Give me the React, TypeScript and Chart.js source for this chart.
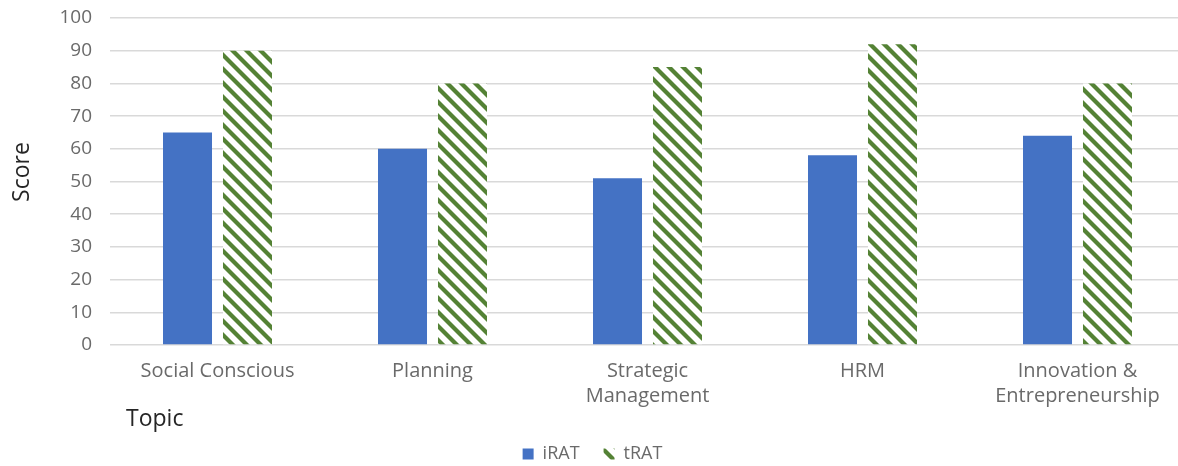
import React, { useEffect, useRef } from "react";
import { Chart, registerables } from "chart.js";

Chart.register(...registerables);

// Topics on the x axis (multi-line where the label wraps)
const topics: (string | string[])[] = [
  "Social Conscious",
  "Planning",
  ["Strategic", "Management"],
  "HRM",
  ["Innovation &", "Entrepreneurship"],
];

// Individual and team readiness assurance test scores
const iratScores = [65, 60, 51, 58, 64];
const tratScores = [90, 80, 85, 92, 80];

const seriesNames = ["iRAT", "tRAT"];
const scoreMin = 0;
const scoreMax = 100;
const scoreStep = 10;

const yTitle = "Score";
const xTitle = "Topic";

const BLUE = "#4472C4";
const GREEN = "#548235";
const TICK_GREY = "#6a6a6a";
const GRID_GREY = "#d9d9d9";
const TITLE_DARK = "#262626";
const FONT = "'Open Sans', sans-serif";

const CANVAS_W = 1192;
const CANVAS_H = 473;

// Diagonal green-on-white stripe fill for the tRAT bars
function makeStripes(): CanvasPattern | string {
  const size = 14;
  const tile = document.createElement("canvas");
  tile.width = size;
  tile.height = size;
  const g = tile.getContext("2d");
  if (!g) return GREEN;
  g.fillStyle = "#ffffff";
  g.fillRect(0, 0, size, size);
  g.strokeStyle = GREEN;
  g.lineWidth = 4.2;
  for (const off of [-size, 0, size]) {
    g.beginPath();
    g.moveTo(off - 3, -3);
    g.lineTo(off + size + 3, size + 3);
    g.stroke();
  }
  return g.createPattern(tile, "repeat") || GREEN;
}

// Axis captions: rotated "Score" beside the value axis and a left-aligned
// "Topic" under the category labels
const axisCaptions = {
  id: "axisCaptions",
  afterDraw(chart: Chart) {
    const { ctx, chartArea } = chart;
    ctx.save();
    ctx.font = `23px ${FONT}`;
    ctx.fillStyle = TITLE_DARK;
    ctx.textAlign = "center";
    ctx.textBaseline = "middle";
    ctx.save();
    ctx.translate(22, chartArea.top + 154);
    ctx.rotate(-Math.PI / 2);
    ctx.fillText(yTitle, 0, 0);
    ctx.restore();
    ctx.textAlign = "left";
    ctx.fillText(xTitle, chartArea.left + 16, chartArea.bottom + 74);
    ctx.restore();
  },
};

export default function App() {
  const canvasRef = useRef<HTMLCanvasElement | null>(null);

  useEffect(() => {
    const canvas = canvasRef.current;
    if (!canvas) return;
    Chart.defaults.font.family = FONT;
    const stripes = makeStripes();

    const chart = new Chart(canvas, {
      type: "bar",
      data: {
        labels: topics,
        datasets: [
          {
            label: seriesNames[0],
            data: iratScores,
            backgroundColor: BLUE,
            borderWidth: 0,
          },
          {
            label: seriesNames[1],
            data: tratScores,
            backgroundColor: stripes as any,
            borderWidth: 0,
          },
        ],
      },
      options: {
        responsive: false,
        animation: false,
        devicePixelRatio: 1,
        layout: { autoPadding: false, padding: { left: 0, right: 7, top: 18, bottom: 0 } },
        datasets: {
          bar: { categoryPercentage: 0.558, barPercentage: 0.817 },
        },
        plugins: {
          legend: {
            position: "bottom",
            labels: {
              boxWidth: 11,
              boxHeight: 11,
              padding: 24,
              color: TICK_GREY,
              font: { size: 18, family: FONT },
            },
          },
          tooltip: { enabled: false },
        },
        scales: {
          x: {
            grid: { display: false, drawTicks: false },
            border: { display: false },
            ticks: {
              color: TICK_GREY,
              padding: 14,
              maxRotation: 0,
              autoSkip: false,
              font: { size: 20, family: FONT, lineHeight: 1.25 },
            },
            afterFit(scale: any) {
              scale.height = 76;
              scale.paddingLeft = 0;
              scale.paddingRight = 0;
            },
          },
          y: {
            min: scoreMin,
            max: scoreMax,
            grid: { color: GRID_GREY, lineWidth: 1.5, drawTicks: false },
            border: { display: false },
            ticks: {
              stepSize: scoreStep,
              color: TICK_GREY,
              padding: 18,
              font: { size: 19, family: FONT },
            },
            afterFit(scale: any) {
              scale.width = 110;
              scale.paddingTop = 0;
              scale.paddingBottom = 0;
            },
          },
        },
      },
      plugins: [axisCaptions],
    });

    return () => chart.destroy();
  }, []);

  return (
    <div
      style={{
        position: "fixed",
        left: 0,
        top: 0,
        width: 1178,
        height: 466,
        overflow: "hidden",
        background: "#ffffff",
      }}
    >
      <canvas
        ref={canvasRef}
        width={CANVAS_W}
        height={CANVAS_H}
        style={{ display: "block", width: CANVAS_W, height: CANVAS_H }}
      />
    </div>
  );
}
